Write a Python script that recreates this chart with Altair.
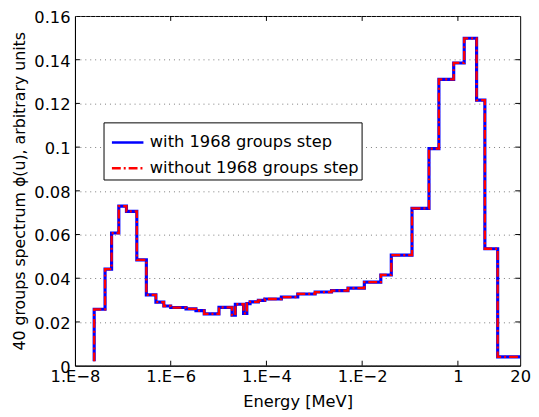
import altair as alt
import pandas as pd

# Group boundaries (MeV) and group fluxes
edges = [2.52e-8, 4.25e-8, 5.82e-8, 8.24e-8, 1.19e-7, 1.96e-7, 3.10e-7, 4.91e-7,
         7.18e-7, 1.0e-6, 2.09e-6, 3.37e-6, 5.01e-6, 1.02e-5, 1.91e-5, 2.24e-5,
         3.33e-5, 3.90e-5, 4.55e-5, 6.78e-5, 9.27e-5, 2.05e-4, 4.51e-4, 1.04e-3,
         2.29e-3, 5.06e-3, 1.11e-2, 2.45e-2, 4.06e-2, 0.110, 0.249, 0.401,
         0.817, 1.355, 2.46, 3.66, 6.78, 20.0]
values = [0.0258, 0.0442, 0.0607, 0.0730, 0.0706, 0.0484, 0.0324, 0.0291,
          0.0273, 0.0266, 0.0260, 0.0252, 0.0237, 0.0267, 0.0231, 0.0281,
          0.0239, 0.0284, 0.0292, 0.0299, 0.0305, 0.0314, 0.0328, 0.0337,
          0.0343, 0.0355, 0.0382, 0.0415, 0.0506, 0.0720, 0.0993, 0.1310,
          0.1385, 0.1498, 0.1215, 0.0535, 0.0040]
start_value = 0.002
series_names = ["with 1968 groups step", "without 1968 groups step"]
series_colors = ["#0000ff", "#ff0000"]
xtick_values = [1e-8, 1e-6, 1e-4, 1e-2, 1, 20]
xtick_labels = ["1.E\u22128", "1.E\u22126", "1.E\u22124", "1.E\u22122", "1", "20"]
ytick_values = [0, 0.02, 0.04, 0.06, 0.08, 0.10, 0.12, 0.14, 0.16]

W, H = 452, 355
FONT = "DejaVu Sans"
FS = 16.5

rows = []
for s in series_names:
    pts = [(edges[0], start_value)]
    for i, v in enumerate(values):
        pts.append((edges[i], v))
        pts.append((edges[i + 1], v))
    for k, (e, v) in enumerate(pts):
        rows.append({"E": e, "phi": v, "series": s, "k": k})
df = pd.DataFrame(rows)

# label expression built from the tick lists
expr = "''"
for v, lab in zip(reversed(xtick_values), reversed(xtick_labels)):
    expr = f"abs(log(datum.value) - log({v})) < 0.01 ? '{lab}' : ({expr})"

xscale = alt.Scale(type="log", domain=[1e-8, 20], nice=False)
yscale = alt.Scale(domain=[0, 0.16], nice=False)

xenc = alt.X("E:Q", scale=xscale, title="Energy [MeV]",
             axis=alt.Axis(values=xtick_values, labelExpr=expr, grid=False, ticks=False,
                           labelFlush=False, labelOverlap=False, labelBound=False,
                           labelPadding=3, titlePadding=9))
yenc = alt.Y("phi:Q", scale=yscale, title="40 groups spectrum \u03d5(u), arbitrary units",
             axis=alt.Axis(values=ytick_values, labelExpr="format(datum.value, '.2~f')",
                           grid=True, gridDash=[1, 4], gridColor="#7a7a7a", ticks=False,
                           labelPadding=5, titlePadding=6, titleFontSize=16,
                           labelOffset=1.5, labelOverlap=False))

legend = alt.Legend(title=None, orient="none", legendX=29, legendY=108,
                    direction="vertical", fillColor="white", strokeColor="black",
                    padding=3, symbolType="stroke", symbolSize=1024, symbolOffset=4,
                    symbolStrokeWidth=2.6, labelFontSize=FS, labelFont=FONT,
                    labelLimit=400, rowPadding=-8, labelOffset=5)
color = alt.Color("series:N", scale=alt.Scale(domain=series_names, range=series_colors),
                  legend=legend)
dash = alt.StrokeDash("series:N",
                      scale=alt.Scale(domain=series_names, range=[[1, 0], [9, 3, 2, 3]]),
                      legend=legend)

base = alt.Chart(df).encode(x=xenc, y=yenc, color=color, strokeDash=dash, order="k:Q")
blue = base.transform_filter(alt.datum.series == series_names[0]).mark_line(strokeWidth=3.2)
red = base.transform_filter(alt.datum.series == series_names[1]).mark_line(strokeWidth=2.3)

xt = pd.DataFrame({"E": xtick_values[1:-1]})
yt = pd.DataFrame({"phi": ytick_values[1:-1]})
tick_bottom = alt.Chart(xt).mark_rule(color="black").encode(x=xenc, y=alt.value(H), y2=alt.value(H - 5))
tick_top = alt.Chart(xt).mark_rule(color="black").encode(x=xenc, y=alt.value(0), y2=alt.value(5))
tick_left = alt.Chart(yt).mark_rule(color="black").encode(y=yenc, x=alt.value(0), x2=alt.value(5))
tick_right = alt.Chart(yt).mark_rule(color="black").encode(y=yenc, x=alt.value(W - 5), x2=alt.value(W))

chart = alt.layer(blue, red, tick_bottom, tick_top, tick_left, tick_right).properties(
    width=W, height=H,
    autosize=alt.AutoSizeParams(type="none"),
    padding={"left": 68, "top": 5, "right": 11, "bottom": 49},
).configure(
    font=FONT, background="white"
).configure_view(
    stroke="black", strokeWidth=1
).configure_axis(
    domainColor="black", labelColor="black", titleColor="black",
    labelFont=FONT, titleFont=FONT, labelFontSize=FS, titleFontSize=FS,
    titleFontWeight="normal",
)

chart.save("out.html", embed_options={"renderer": "svg", "actions": False})
